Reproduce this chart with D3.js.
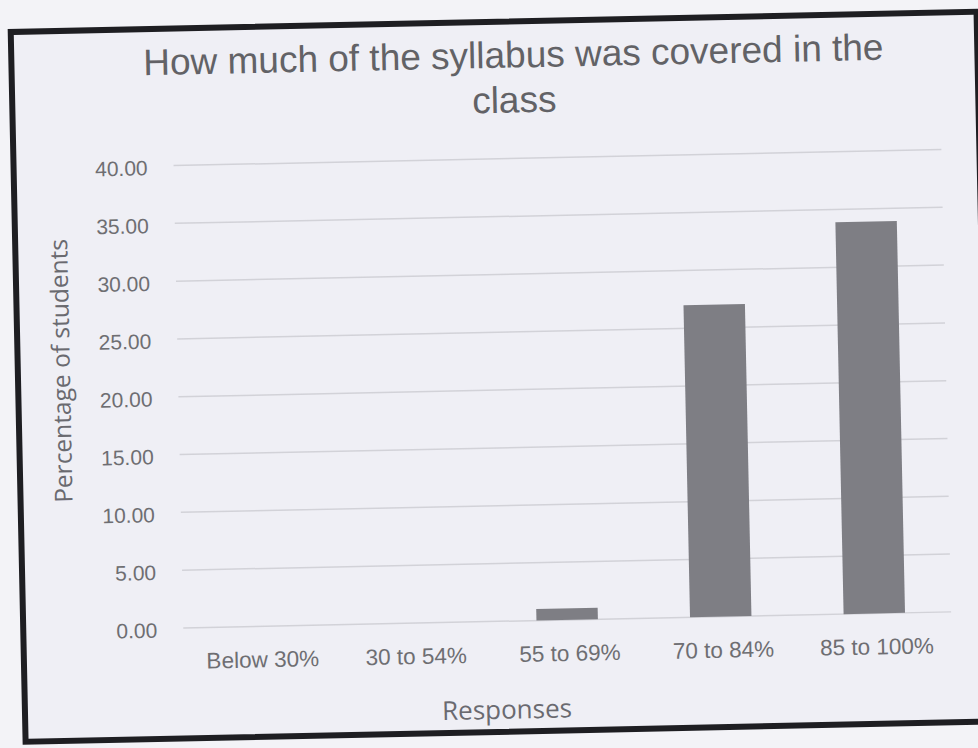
<!DOCTYPE html>
<html>
<head>
<meta charset="utf-8">
<script src="https://cdn.jsdelivr.net/npm/d3@7/dist/d3.min.js"></script>
<style>
  html, body { margin: 0; padding: 0; background: #f2f2f6; }
  svg { display: block; }
</style>
</head>
<body>
<svg id="chart" width="978" height="748"></svg>
<script>
const titleLines = ["How much of the syllabus was covered in the", "class"];
const categories = ["Below 30%", "30 to 54%", "55 to 69%", "70 to 84%", "85 to 100%"];
const values = [0, 0, 1.0, 27.0, 33.9];
const yTicks = [0, 5, 10, 15, 20, 25, 30, 35, 40];
const yTitle = "Percentage of students";
const xTitle = "Responses";

const W = 978, H = 748;
const svg = d3.select("#chart");
svg.append("rect").attr("width", W).attr("height", H).attr("fill", "#f3f3f7");

// photo is slightly tilted
const g = svg.append("g").attr("transform", "rotate(-1.2, 489, 374)");

// chart frame
g.append("rect")
  .attr("x", 18).attr("y", 22).attr("width", 966).attr("height", 710)
  .attr("fill", "#efeff5").attr("stroke", "#1e1e22").attr("stroke-width", 6);

const plot = { left: 178, right: 946, top: 159, bottom: 621.5 };

const x = d3.scaleBand().domain(categories)
  .range([plot.left, plot.right]).paddingInner(0.6).paddingOuter(0.3);
const y = d3.scaleLinear().domain([0, 40]).range([plot.bottom, plot.top]);

// gridlines
g.append("g").selectAll("line").data(yTicks).join("line")
  .attr("x1", plot.left).attr("x2", plot.right)
  .attr("y1", d => y(d)).attr("y2", d => y(d))
  .attr("stroke", "#d2d2d8").attr("stroke-width", 1.5);

// y axis labels
const yAxis = d3.axisLeft(y).tickValues(yTicks).tickFormat(d3.format(".2f")).tickSize(0).tickPadding(0);
const ya = g.append("g").attr("transform", `translate(${plot.left - 26},2)`).call(yAxis);
ya.select(".domain").remove();
ya.selectAll("text").attr("font-family", "Liberation Sans, Arial, sans-serif")
  .attr("font-size", 21).attr("fill", "#6e6e72");

// bars
g.append("g").selectAll("rect").data(values).join("rect")
  .attr("x", (d, i) => x(categories[i]))
  .attr("width", x.bandwidth())
  .attr("y", d => y(d))
  .attr("height", d => y(0) - y(d))
  .attr("fill", "#7e7e84");

// x axis labels
const xAxis = d3.axisBottom(x).tickSize(0).tickPadding(0);
const xa = g.append("g").attr("transform", `translate(2,${plot.bottom + 25})`).call(xAxis);
xa.select(".domain").remove();
xa.selectAll("text").attr("font-family", "Liberation Sans, Arial, sans-serif")
  .attr("font-size", 22.5).attr("fill", "#6e6e72");

// title
g.append("text")
  .attr("x", 520).attr("y", 68)
  .attr("text-anchor", "middle")
  .attr("font-family", "Liberation Sans, Arial, sans-serif")
  .attr("font-size", 37).attr("fill", "#626266")
  .selectAll("tspan").data(titleLines).join("tspan")
  .attr("x", 520).attr("dy", (d, i) => i === 0 ? 0 : 45)
  .text(d => d);

// axis titles
g.append("text")
  .attr("transform", `translate(70, 362) rotate(-90)`)
  .attr("text-anchor", "middle")
  .attr("font-family", "Open Sans, sans-serif")
  .attr("font-size", 24.5).attr("fill", "#6a6a70")
  .text(yTitle);

g.append("text")
  .attr("x", 500).attr("y", 719)
  .attr("text-anchor", "middle")
  .attr("font-family", "Open Sans, sans-serif")
  .attr("font-size", 26).attr("fill", "#6a6a70")
  .text(xTitle);
</script>
</body>
</html>
